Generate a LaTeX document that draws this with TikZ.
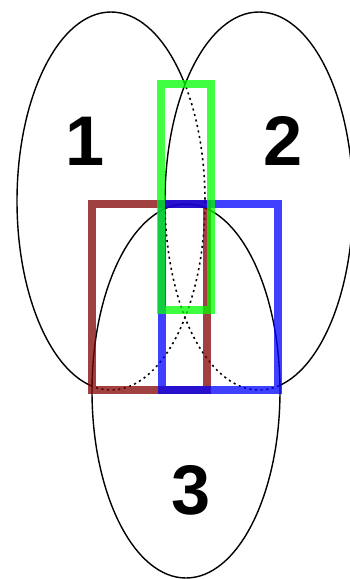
\documentclass[tikz,border=0pt]{standalone}
\usepackage{fontspec}
\setmainfont{Liberation Sans}
\usepackage{xcolor}
\definecolor{setbrown}{HTML}{800000}
\definecolor{setblue}{HTML}{0000FF}
\definecolor{setgreen}{HTML}{00FF00}

% the three sets, in pixel units
\newcommand{\ellOne}{(111,201) ellipse [x radius=94, y radius=189]}
\newcommand{\ellTwo}{(259,201) ellipse [x radius=94, y radius=189]}
\newcommand{\ellThree}{(186,391) ellipse [x radius=94, y radius=187]}
\newcommand{\farOut}{(-40,-40) rectangle (400,620)}

\begin{document}
\begin{tikzpicture}[
  x=0.02cm, y=-0.02cm,
  rim/.style={draw=black, line width=0.8pt},
  hidden/.style={draw=black, line width=0.9pt, dash pattern=on 1.2pt off 2pt},
  box/.style={line width=4.5pt, draw opacity=0.75},
  setlabel/.style={font=\fontsize{40}{40}\selectfont\bfseries, inner sep=0pt}
]
  \useasboundingbox (0,0) rectangle (350,579);

  % set 1, lying behind 2 and 3
  \begin{scope}[even odd rule]
    \clip \farOut \ellTwo;
    \clip \farOut \ellThree;
    \draw[rim] \ellOne;
  \end{scope}
  \begin{scope}
    \clip \ellTwo;
    \draw[hidden] \ellOne;
  \end{scope}
  \begin{scope}[even odd rule]
    \clip \farOut \ellTwo;
    \clip \ellThree;
    \draw[hidden] \ellOne;
  \end{scope}

  % set 2, lying behind 3
  \begin{scope}[even odd rule]
    \clip \farOut \ellThree;
    \draw[rim] \ellTwo;
  \end{scope}
  \begin{scope}
    \clip \ellThree;
    \draw[hidden] \ellTwo;
  \end{scope}

  % set 3 in front
  \draw[rim] \ellThree;

  \draw[box, setbrown] (92,204) rectangle (207,390);
  \draw[box, setblue] (162,204) rectangle (278,390);
  \draw[box, setgreen] (161,84) rectangle (211,310);

  \node[setlabel] (one) at (85,141) {1};
  \node[setlabel] (two) at (283,141) {2};
  \node[setlabel] (three) at (191,490) {3};
\end{tikzpicture}
\end{document}
